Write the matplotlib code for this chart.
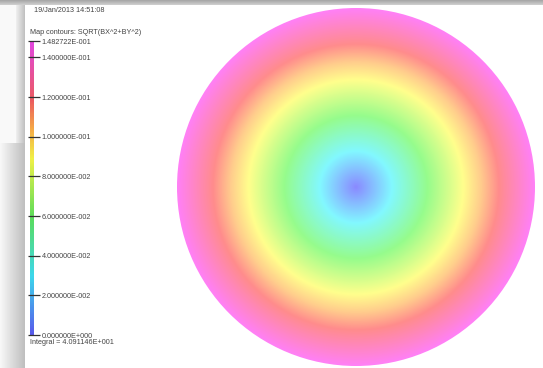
import numpy as np
import matplotlib
matplotlib.use("Agg")
import matplotlib.pyplot as plt
from matplotlib.colors import LinearSegmentedColormap, Normalize
from matplotlib.patches import Circle
from matplotlib.cm import ScalarMappable

# |B| map, SQRT(BX^2+BY^2), on the circular cross-section
b_max = 1.482722e-1
stamp = "19/Jan/2013 14:51:08"
title = "Map contours: SQRT(BX^2+BY^2)"
integral_text = "Integral = 4.091146E+001"
tick_vals = [0.0, 0.02, 0.04, 0.06, 0.08, 0.10, 0.12, 0.14, b_max]
tick_text = ["0.000000E+000", "2.000000E-002", "4.000000E-002", "6.000000E-002",
             "8.000000E-002", "1.000000E-001", "1.200000E-001", "1.400000E-001",
             "1.482722E-001"]

# rainbow scale: blue -> cyan -> green -> yellow -> orange -> red -> magenta
stops = [0.0, 0.2, 0.4, 0.6, 0.7, 0.8, 1.0]
bar_rgb = [(88, 88, 235), (60, 215, 235), (90, 220, 90), (240, 240, 70),
           (245, 170, 70), (235, 90, 95), (225, 70, 225)]
map_rgb = [(138, 138, 255), (130, 248, 255), (150, 252, 140), (255, 255, 140),
           (255, 205, 140), (255, 140, 140), (255, 128, 246)]

def make_cmap(name, rgb):
    return LinearSegmentedColormap.from_list(
        name, [(s, tuple(c / 255 for c in col)) for s, col in zip(stops, rgb)])

cmap_bar = make_cmap("bar", bar_rgb)
cmap_map = make_cmap("map", map_rgb)
norm = Normalize(0.0, b_max)

W, H = 543, 368
fig = plt.figure(figsize=(W / 100, H / 100), dpi=100)
ax = fig.add_axes([0, 0, 1, 1])
ax.set_xlim(0, W)
ax.set_ylim(H, 0)
ax.axis("off")

# window frame shading
bg = np.ones((H, W, 3))
xx = np.arange(W)
top = np.linspace(0.66, 0.80, 5)
bg[:5, :, :] = top[:, None, None]
grad = np.clip(0.97 - 0.22 * (xx[:25] / 24.0), 0, 1)
bg[5:, :25, :] = grad[None, :, None]
bg[5:143, :16, :] = 0.98
g2 = np.linspace(0.93, 0.76, 9)
bg[5:143, 16:25, :] = g2[None, :, None]
ax.imshow(bg, extent=(0, W, H, 0), zorder=0, interpolation="bilinear")

# field map: |B| grows linearly with radius inside the conductor
cx, cy, R = 356, 187, 179
n = 700
u = np.linspace(-1, 1, n)
gx, gy = np.meshgrid(u, u)
r = np.hypot(gx, gy)
bmag = np.ma.masked_where(r > 1.01, b_max * np.clip(r, 0, 1))
im = ax.imshow(bmag, cmap=cmap_map, norm=norm, extent=(cx - R, cx + R, cy + R, cy - R),
               interpolation="bilinear", zorder=1)
im.set_clip_path(Circle((cx, cy), R, transform=ax.transData))

fnt = ["Liberation Sans Narrow", "Liberation Sans", "DejaVu Sans"]
tc = "#444444"
ax.text(34, 10, stamp, fontsize=5.2, family=fnt, color=tc, va="center", zorder=3)
ax.text(29.5, 33, title, fontsize=5.2, family=fnt, color=tc, va="center", zorder=3)
ax.text(29.5, 342, integral_text, fontsize=5.2, family=fnt, color=tc,
        va="center", zorder=3)

# colour bar
y_top, y_bot = 41, 335
cax = fig.add_axes([30 / W, (H - y_bot) / H, 4 / W, (y_bot - y_top) / H])
cb = fig.colorbar(ScalarMappable(norm=norm, cmap=cmap_bar), cax=cax, ticks=tick_vals)
cb.outline.set_visible(False)
cax.set_yticklabels(tick_text)
cax.tick_params(axis="y", direction="inout", length=8, width=0.9, color="#333333",
                pad=1.5, labelsize=5.2, labelcolor=tc)
for lbl in cax.get_yticklabels():
    lbl.set_family(fnt)

fig.savefig("out.png", dpi=100)
